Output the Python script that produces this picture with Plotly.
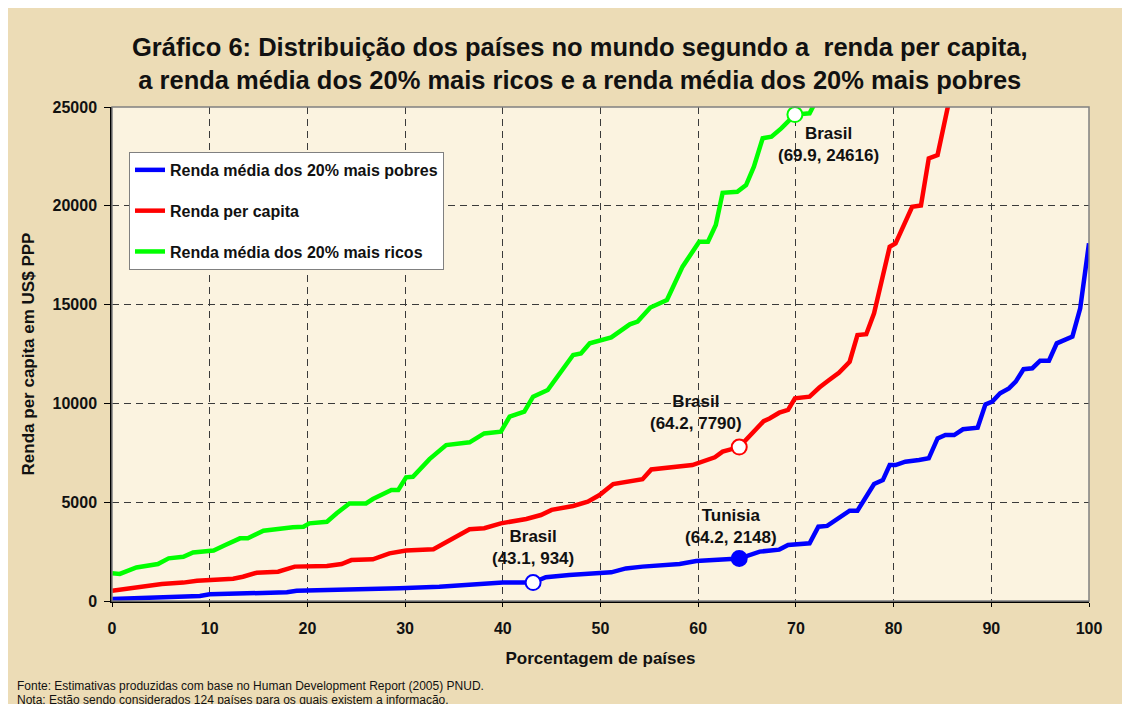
import plotly.graph_objects as go

# ---- data ----
pobres_x = [0, 2.2, 5.6, 9.0, 10.0, 14.1, 17.9, 18.9, 23.3, 29.4, 33.5, 39.3, 40.0, 43.1, 44.4, 46.8,
            51.1, 52.6, 54.3, 58.1, 59.8, 64.2, 66.3, 68.3, 69.2, 71.4, 72.3, 73.2, 74.1, 75.5, 76.3,
            78.0, 78.9, 79.6, 80.2, 81.2, 82.6, 83.6, 84.5, 85.3, 86.2, 87.1, 88.6, 89.4, 90.1, 90.9,
            91.8, 92.5, 93.3, 94.2, 95.0, 95.9, 96.7, 98.3, 99.1, 100]
pobres_y = [100, 140, 220, 250, 340, 390, 440, 520, 560, 640, 720, 890, 940, 934, 1200, 1320,
            1450, 1650, 1740, 1870, 2020, 2148, 2500, 2600, 2830, 2920, 3760, 3800, 4100, 4570, 4570,
            5920, 6120, 6880, 6880, 7050, 7140, 7220, 8230, 8400, 8400, 8690, 8770, 9950, 10090, 10510,
            10760, 11100, 11730, 11780, 12160, 12160, 13040, 13380, 14810, 18100]

capita_x = [0, 2.5, 3.9, 5.1, 7.3, 8.7, 12.4, 13.4, 14.8, 17.0, 18.7, 22.0, 23.5, 24.5, 26.7, 28.4,
            30.1, 32.9, 33.5, 35.1, 36.6, 38.1, 39.8, 42.4, 43.9, 45.0, 47.2, 48.7, 49.9, 51.3, 54.3,
            55.2, 57.1, 59.4, 61.7, 62.5, 64.2, 66.7, 67.3, 68.3, 69.2, 69.9, 71.4, 72.4, 73.4, 74.4,
            75.5, 76.3, 77.2, 78.0, 79.6, 80.2, 81.9, 82.8, 83.6, 84.5, 85.7, 86.2]
capita_y = [520, 670, 760, 860, 930, 1030, 1130, 1230, 1430, 1480, 1740, 1770, 1870, 2070, 2110, 2410,
            2550, 2620, 2780, 3250, 3630, 3680, 3930, 4150, 4350, 4610, 4810, 5030, 5360, 5920, 6160,
            6660, 6770, 6880, 7270, 7560, 7790, 9100, 9240, 9530, 9670, 10260, 10340, 10800, 11180, 11550,
            12110, 13460, 13500, 14560, 17930, 18100, 19950, 20010, 22400, 22570, 25350, 26800]

ricos_x = [0, 0.8, 2.5, 4.7, 5.8, 7.3, 8.3, 10.4, 11.6, 13.1, 13.9, 15.5, 18.5, 19.6, 20.2, 22.0,
           23.0, 24.3, 26.0, 26.7, 28.6, 29.3, 30.1, 30.8, 32.5, 34.2, 36.6, 38.1, 39.8, 40.7, 42.2,
           43.1, 44.6, 47.2, 48.0, 48.9, 51.1, 53.0, 53.8, 55.1, 56.8, 58.4, 60.1, 61.0, 61.8, 62.5,
           64.0, 64.9, 65.7, 66.6, 67.5, 68.5, 69.9, 71.4, 72.1, 72.6]
ricos_y = [1400, 1370, 1700, 1870, 2160, 2240, 2460, 2550, 2830, 3170, 3170, 3560, 3730, 3760, 3930, 4010,
           4440, 4940, 4940, 5160, 5620, 5620, 6260, 6290, 7180, 7890, 8030, 8480, 8570, 9330, 9580,
           10340, 10680, 12450, 12530, 13040, 13340, 14000, 14140, 14850, 15230, 16920, 18180, 18180, 19030, 20660,
           20710, 21050, 21980, 23420, 23500, 23920, 24616, 24680, 25350, 26500]

names = ["Renda média dos 20% mais pobres", "Renda per capita", "Renda média dos 20% mais ricos"]
colors = ["#0000FF", "#FF0000", "#00FF00"]

# highlighted countries: (label, x, y, series index, filled)
hl_labels = ["Brasil", "Tunisia", "Brasil", "Brasil"]
hl_x = [43.1, 64.2, 64.2, 69.9]
hl_y = [934, 2148, 7790, 24616]
hl_series = [0, 0, 1, 2]
hl_filled = [False, True, False, False]

FONT = "Liberation Sans, Arial, Helvetica, sans-serif"

fig = go.Figure()
series = [(pobres_x, pobres_y), (capita_x, capita_y), (ricos_x, ricos_y)]
for i, (xs, ys) in enumerate(series):
    fig.add_trace(go.Scatter(x=xs, y=ys, mode="lines", name=names[i],
                             line=dict(color=colors[i], width=4.5),
                             legendgroup=f"g{i}"))

for lab, x, y, s, f in zip(hl_labels, hl_x, hl_y, hl_series, hl_filled):
    fig.add_trace(go.Scatter(x=[x], y=[y], mode="markers", showlegend=False,
                             marker=dict(size=15, color=colors[s] if f else "white",
                                         line=dict(color=colors[s], width=2)),
                             cliponaxis=False))

# annotations for the highlighted points
ann_pos = [
    dict(xanchor="center", yanchor="bottom", xshift=0, yshift=13),
    dict(xanchor="center", yanchor="bottom", xshift=-8, yshift=10),
    dict(xanchor="right", yanchor="bottom", xshift=5, yshift=12),
    dict(xanchor="center", yanchor="top", xshift=34, yshift=-7),
]
for lab, x, y, p in zip(hl_labels, hl_x, hl_y, ann_pos):
    txt = f"<b>{lab}</b><br><b>({x}, {y})</b>"
    fig.add_annotation(x=x, y=y, text=txt, showarrow=False, align="center",
                       font=dict(family=FONT, size=17, color="#111111"), **p)

# footnotes
fig.add_annotation(xref="paper", yref="paper", x=-0.099, y=-0.172, xanchor="left", yanchor="middle",
                   text="Fonte: Estimativas produzidas com base no Human Development Report (2005) PNUD.",
                   showarrow=False, font=dict(family=FONT, size=12, color="#111111"))
fig.add_annotation(xref="paper", yref="paper", x=-0.099, y=-0.2, xanchor="left", yanchor="middle",
                   text="Nota: Estão sendo considerados 124 países para os quais existem a informação.",
                   showarrow=False, font=dict(family=FONT, size=12, color="#111111"))

# gray frame of the plot area
fig.add_shape(type="rect", xref="paper", yref="paper", x0=0, x1=1, y0=0, y1=1,
              line=dict(color="#808080", width=1.5), layer="above")

fig.update_layout(
    width=1130, height=704,
    margin=dict(l=104, r=49, t=99, b=111, autoexpand=False),
    paper_bgcolor="#ECDCB6",
    plot_bgcolor="#FBF3E0",
    font=dict(family=FONT, color="#111111"),
    title=dict(text="<b>Gráfico 6: Distribuição dos países no mundo segundo a  renda per capita,<br>"
                    "a renda média dos 20% mais ricos e a renda média dos 20% mais pobres</b>",
               x=0.506, xanchor="center", y=0.932, yanchor="middle", yref="container",
               font=dict(family=FONT, size=25.5, color="#111111")),
    legend=dict(x=0.0174, y=0.909, xanchor="left", yanchor="top",
                bgcolor="white", bordercolor="#808080", borderwidth=1,
                font=dict(family=FONT, size=16, color="#111111", weight="bold"),
                tracegroupgap=17, itemwidth=30),
    showlegend=True,
)
fig.update_xaxes(range=[0, 100], dtick=10, tick0=0,
                 showgrid=True, gridcolor="#3a3a3a", gridwidth=1, griddash="7px,5px",
                 zeroline=False, showline=True, linecolor="black", linewidth=1.5,
                 ticks="outside", ticklen=4, tickcolor="black", ticklabelstandoff=8,
                 tickfont=dict(family=FONT, size=16, color="#111111", weight="bold"),
                 title=dict(text="<b>Porcentagem de países</b>", standoff=16,
                            font=dict(family=FONT, size=17, color="#111111")))
fig.update_yaxes(range=[0, 25000], dtick=5000, tick0=0, tickformat="d",
                 showgrid=True, gridcolor="#3a3a3a", gridwidth=1, griddash="7px,5px",
                 zeroline=False, showline=True, linecolor="black", linewidth=1.5,
                 ticks="outside", ticklen=6, tickcolor="black", ticklabelstandoff=4,
                 tickfont=dict(family=FONT, size=16, color="#111111", weight="bold"),
                 title=dict(text="<b>Renda per capita em US$ PPP</b>", standoff=14,
                            font=dict(family=FONT, size=17, color="#111111")))

fig.write_html("out.html")
